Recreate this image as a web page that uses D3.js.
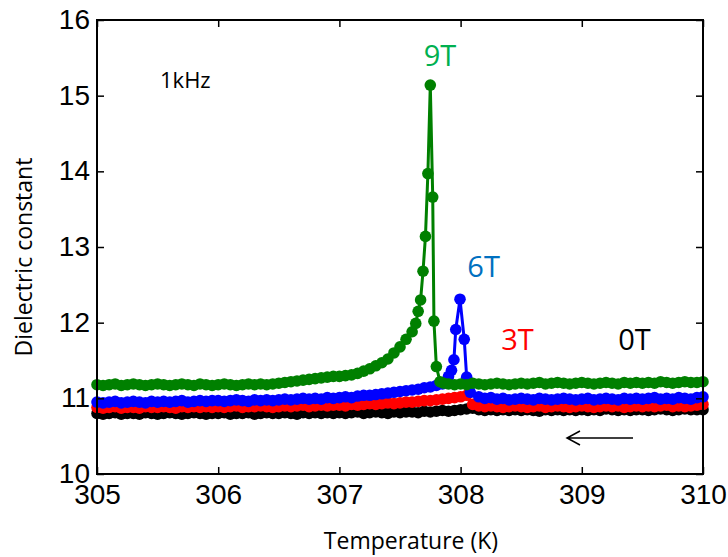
<!DOCTYPE html>
<html>
<head>
<meta charset="utf-8" />
<title>dielectric constant vs temperature</title>
<script src="https://cdn.jsdelivr.net/npm/d3@7/dist/d3.min.js"></script>
<style>
	body { margin: 0; background: #fff; }
	.tick-label { font-family: "Liberation Sans", Arial, sans-serif; font-size: 28px; fill: #000; }
	.title { font-family: "Open Sans", sans-serif; font-size: 23px; fill: #000; }
</style>
</head>
<body>
<div id="chart"></div>
<script>

// temperature grid of the measurement (K), one reading every 0.05 K
const tempGrid = d3.range(0, 101).map(i => +(305 + i * 0.05).toFixed(2));

// 0T
const vals0T = [
	10.80,10.79,10.80,10.81,10.79,10.80,10.80,10.79,10.81,10.80,
	10.79,10.80,10.81,10.80,10.79,10.80,10.81,10.80,10.79,10.80,
	10.80,10.81,10.79,10.80,10.80,10.81,10.79,10.80,10.81,10.80,
	10.80,10.81,10.80,10.79,10.81,10.80,10.81,10.80,10.81,10.80,
	10.81,10.80,10.81,10.82,10.80,10.81,10.82,10.81,10.80,10.82,
	10.81,10.82,10.82,10.81,10.83,10.82,10.83,10.84,10.83,10.84,
	10.85,10.86,10.87,10.85,10.84,10.85,10.84,10.85,10.84,10.85,
	10.84,10.85,10.84,10.83,10.85,10.84,10.85,10.84,10.85,10.84,
	10.85,10.84,10.85,10.84,10.86,10.85,10.84,10.85,10.84,10.85,
	10.85,10.84,10.85,10.86,10.85,10.84,10.85,10.86,10.85,10.85,
	10.85
];

// 3T
const vals3T = [
	10.88,10.87,10.88,10.89,10.87,10.88,10.88,10.87,10.89,10.88,
	10.88,10.89,10.88,10.87,10.89,10.88,10.89,10.88,10.89,10.88,
	10.89,10.88,10.89,10.90,10.88,10.89,10.89,10.90,10.89,10.88,
	10.89,10.90,10.89,10.90,10.91,10.89,10.90,10.91,10.90,10.91,
	10.91,10.90,10.92,10.91,10.92,10.93,10.92,10.93,10.94,10.93,
	10.94,10.95,10.95,10.96,10.97,10.97,10.98,10.99,11.00,11.01,
	11.02,11.04,10.92,10.90,10.89,10.90,10.89,10.88,10.89,10.90,
	10.89,10.88,10.89,10.90,10.88,10.89,10.90,10.89,10.88,10.89,
	10.90,10.89,10.88,10.89,10.90,10.89,10.90,10.88,10.89,10.90,
	10.89,10.90,10.89,10.90,10.91,10.89,10.90,10.89,10.90,10.91,
	10.92
];

// 6T (null = replaced by the peak readings below)
const vals6T = [
	10.95,10.94,10.95,10.96,10.94,10.95,10.96,10.95,10.94,10.96,
	10.95,10.96,10.95,10.96,10.97,10.95,10.96,10.97,10.96,10.97,
	10.97,10.96,10.97,10.98,10.97,10.96,10.98,10.97,10.98,10.97,
	10.98,10.99,10.98,10.99,11.00,10.99,11.00,10.99,11.01,11.00,
	11.01,11.02,11.01,11.03,11.04,11.04,11.05,11.06,11.07,11.08,
	11.09,11.10,11.11,11.12,11.14,11.15,11.17,11.19,null,null,
	null,null,null,11.02,11.00,11.01,10.99,11.00,10.98,10.99,
	11.00,10.99,10.98,11.00,10.99,10.98,10.99,11.00,10.99,10.98,
	10.99,11.00,10.98,10.99,11.00,10.99,10.98,11.00,10.99,11.00,
	10.99,11.00,11.01,10.99,11.00,10.99,11.01,11.00,10.99,11.01,
	11.02
];
const peak6T = [
	[307.88, 11.22], [307.90, 11.29], [307.925, 11.37], [307.945, 11.51],
	[307.96, 11.91], [307.995, 12.31], [308.03, 11.78], [308.05, 11.28],
	[308.08, 11.08]
];

// 9T
const vals9T = [
	11.18,11.17,11.18,11.19,11.17,11.18,11.19,11.18,11.17,11.18,
	11.19,11.18,11.17,11.18,11.19,11.18,11.17,11.19,11.18,11.17,
	11.18,11.19,11.18,11.17,11.18,11.19,11.18,11.19,11.18,11.19,
	11.20,11.21,11.22,11.23,11.24,11.25,11.26,11.27,11.28,11.29,
	11.29,11.30,11.31,11.33,11.36,11.39,11.43,11.47,11.52,11.60,
	11.68,11.78,null,null,null,null,null,null,11.19,11.18,
	11.19,11.18,11.20,11.19,11.18,11.19,11.20,11.19,11.18,11.19,
	11.20,11.19,11.20,11.21,11.19,11.20,11.21,11.20,11.19,11.20,
	11.21,11.20,11.19,11.20,11.21,11.20,11.19,11.21,11.20,11.21,
	11.20,11.21,11.20,11.22,11.21,11.20,11.21,11.22,11.21,11.21,
	11.22
];
const peak9T = [
	[307.60, 11.88], [307.63, 11.99], [307.65, 12.15], [307.67, 12.30],
	[307.69, 12.68], [307.71, 13.14], [307.73, 13.97], [307.75, 15.14],
	[307.77, 13.66], [307.78, 12.02], [307.80, 11.42], [307.83, 11.22],
	[307.86, 11.20]
];

const xTicks = [305, 306, 307, 308, 309, 310];
const yTicks = [10, 11, 12, 13, 14, 15, 16];

const series = [
	{name: "0T", vals: vals0T, peak: [], color: "#000000", labelColor: "#000000", label: [309.435, 11.64]},
	{name: "3T", vals: vals3T, peak: [], color: "#ff0000", labelColor: "#ff0000", label: [308.47, 11.64]},
	{name: "6T", vals: vals6T, peak: peak6T, color: "#0000ff", labelColor: "#0070c0", label: [308.19, 12.60]},
	{name: "9T", vals: vals9T, peak: peak9T, color: "#008000", labelColor: "#00b050", label: [307.83, 15.39]}
];

const width = 728, height = 557;
const margin = {left: 97, right: 25, top: 20, bottom: 83};

let svg = d3.select("#chart").append("svg")
	.attr("width", width)
	.attr("height", height);

let x = d3.scaleLinear().domain([305, 310]).range([margin.left, width - margin.right]);
let y = d3.scaleLinear().domain([10, 16]).range([height - margin.bottom, margin.top]);

// join grid readings with the peak readings, sorted by temperature
function points(s) {
	let pts = [];
	s.vals.forEach((v, i) => { if (v !== null) pts.push([tempGrid[i], v]); });
	pts = pts.concat(s.peak);
	pts.sort((a, b) => a[0] - b[0]);
	return pts;
}

let line = d3.line().x(d => x(d[0])).y(d => y(d[1]));

let plot = svg.append("g");
series.forEach(s => {
	let pts = points(s);
	let g = plot.append("g").attr("class", "series-" + s.name);
	g.append("path")
		.datum(pts)
		.attr("d", line)
		.attr("fill", "none")
		.attr("stroke", s.color)
		.attr("stroke-width", 3);
	g.selectAll("circle")
		.data(pts)
		.enter().append("circle")
		.attr("cx", d => x(d[0]))
		.attr("cy", d => y(d[1]))
		.attr("r", 5.8)
		.attr("fill", s.color);
});

// axes: ticks inside, mirrored on top and right
let x0 = x.range()[0], x1 = x.range()[1], y0 = y.range()[0], y1 = y.range()[1];

svg.append("g")
	.attr("transform", `translate(0,${y0})`)
	.call(d3.axisBottom(x).tickValues(xTicks).tickSizeInner(-7).tickSizeOuter(0).tickPadding(9).tickFormat(d3.format("d")))
	.call(g => g.select(".domain").remove())
	.call(g => g.selectAll(".tick text").attr("class", "tick-label").attr("font-size", null).attr("font-family", null).attr("dy", "0.75em"));
svg.append("g")
	.attr("transform", `translate(0,${y1})`)
	.call(d3.axisTop(x).tickValues(xTicks).tickSizeInner(-7).tickSizeOuter(0).tickFormat(""))
	.call(g => g.select(".domain").remove());
svg.append("g")
	.attr("transform", `translate(${x0},0)`)
	.call(d3.axisLeft(y).tickValues(yTicks).tickSizeInner(-7).tickSizeOuter(0).tickPadding(7).tickFormat(d3.format("d")))
	.call(g => g.select(".domain").remove())
	.call(g => g.selectAll(".tick text").attr("class", "tick-label").attr("font-size", null).attr("font-family", null).attr("dy", "0.3em"));
svg.append("g")
	.attr("transform", `translate(${x1},0)`)
	.call(d3.axisRight(y).tickValues(yTicks).tickSizeInner(-7).tickSizeOuter(0).tickFormat(""))
	.call(g => g.select(".domain").remove());

svg.selectAll(".tick line").attr("stroke", "#000").attr("stroke-width", 1.5);

svg.append("rect")
	.attr("x", x0).attr("y", y1)
	.attr("width", x1 - x0).attr("height", y0 - y1)
	.attr("fill", "none")
	.attr("stroke", "#000")
	.attr("stroke-width", 2);

// axis titles
svg.append("text")
	.attr("class", "title")
	.attr("x", (x0 + x1) / 2 + 11)
	.attr("y", 549)
	.attr("text-anchor", "middle")
	.text("Temperature (K)");
svg.append("text")
	.attr("class", "title")
	.attr("transform", "translate(32,257) rotate(-90)")
	.attr("text-anchor", "middle")
	.text("Dielectric constant");

// annotations
svg.append("text")
	.attr("x", 160).attr("y", 88)
	.attr("font-family", "Open Sans, sans-serif")
	.attr("font-size", 22)
	.text("1kHz");

series.forEach(s => {
	svg.append("text")
		.attr("x", x(s.label[0]))
		.attr("y", y(s.label[1]))
		.attr("text-anchor", "middle")
		.attr("font-family", "Open Sans, sans-serif")
		.attr("font-size", 29)
		.attr("fill", s.labelColor)
		.text(s.name);
});

// cooling direction arrow
let ay = 438, axL = 567, axR = 633;
svg.append("path")
	.attr("d", `M${axR},${ay}H${axL}M${axL + 13},${ay - 7}L${axL},${ay}L${axL + 13},${ay + 7}`)
	.attr("fill", "none")
	.attr("stroke", "#000")
	.attr("stroke-width", 1.5);

</script>
</body>
</html>
